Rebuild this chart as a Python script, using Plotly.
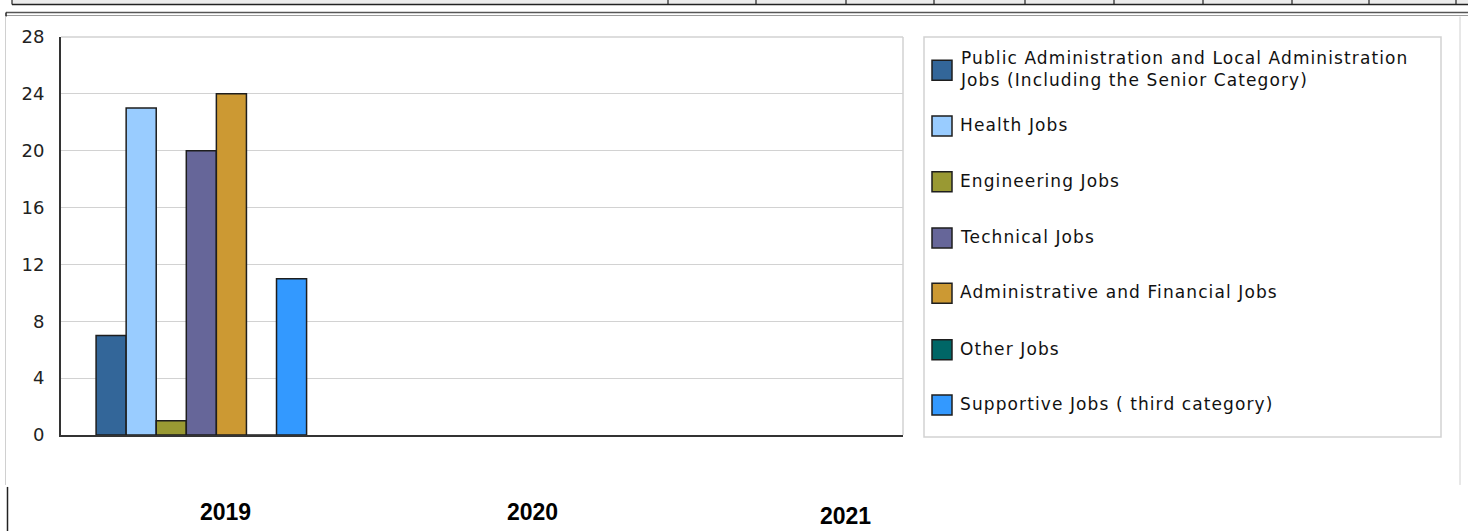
import plotly.graph_objects as go

# ---------------- data ----------------
years = ["2019", "2020", "2021"]
series_names = [
    "Public Administration and Local Administration<br>Jobs (Including the Senior Category)",
    "Health Jobs",
    "Engineering Jobs",
    "Technical Jobs",
    "Administrative and Financial Jobs",
    "Other Jobs",
    "Supportive Jobs ( third category)",
]
public_admin = [7, None, None]
health = [23, None, None]
engineering = [1, None, None]
technical = [20, None, None]
admin_financial = [24, None, None]
other = [0, None, None]
supportive = [11, None, None]
y_ticks = [0, 4, 8, 12, 16, 20, 24, 28]
year_labels = ["2019", "2020", "2021"]

series_values = [public_admin, health, engineering, technical,
                 admin_financial, other, supportive]
colors = ["#336699", "#99ccff", "#999933", "#666699", "#cc9933", "#006666", "#3399ff"]

# ---------------- geometry (pixels) ----------------
W, H = 1468, 531
PL, PR, PT, PB = 61, 903, 36.5, 435   # plot area box in pixels


def px(x):
    return (x - PL) / (PR - PL)


def py(y):
    return (PB - y) / (PB - PT)


fig = go.Figure()
for name, vals, col in zip(series_names, series_values, colors):
    fig.add_trace(go.Bar(
        x=years, y=vals, name=name, showlegend=False,
        marker=dict(color=col, line=dict(color="#1e1e1e", width=1.5)),
    ))

shapes = []
# plot-area border (top / right, light grey)
shapes.append(dict(type="line", xref="paper", yref="paper", x0=0, x1=1, y0=1, y1=1,
                   line=dict(color="#d2d2d2", width=1.5), layer="below"))
shapes.append(dict(type="line", xref="paper", yref="paper", x0=1, x1=1, y0=0, y1=1,
                   line=dict(color="#d2d2d2", width=1.5), layer="below"))

# legend box
shapes.append(dict(type="rect", xref="paper", yref="paper",
                   x0=px(924), x1=px(1441), y0=py(437), y1=py(36.5),
                   line=dict(color="#d2d2d2", width=1.5), fillcolor="white", layer="below"))

# legend entries
legend_centers = [69.7, 125.5, 181.5, 237.7, 293, 349.7, 405]
annotations = []
for name, col, cy in zip(series_names, colors, legend_centers):
    shapes.append(dict(type="rect", xref="paper", yref="paper",
                       x0=px(932), x1=px(952), y0=py(cy + 10), y1=py(cy - 10),
                       line=dict(color="#1e1e1e", width=1.5), fillcolor=col))
    styled = "<br>".join('<span style="letter-spacing:1.1px">%s</span>' % part
                         for part in name.split("<br>"))
    annotations.append(dict(xref="paper", yref="paper", x=px(958), y=py(cy - 1),
                            xanchor="left", yanchor="middle", align="left",
                            text=styled, showarrow=False,
                            font=dict(family="DejaVu Sans", size=17, color="#111111")))

# page decorations: table row at top
shapes.append(dict(type="rect", xref="paper", yref="paper",
                   x0=px(12), x1=px(1468), y0=py(4), y1=py(-2),
                   line=dict(width=0), fillcolor="#ececec"))
shapes.append(dict(type="line", xref="paper", yref="paper",
                   x0=px(12), x1=px(1468), y0=py(4), y1=py(4),
                   line=dict(color="#222222", width=1.5)))
for xv in [12, 668, 756, 846, 934, 1025, 1114, 1203, 1292, 1369, 1456]:
    shapes.append(dict(type="line", xref="paper", yref="paper",
                       x0=px(xv), x1=px(xv), y0=py(-2), y1=py(4),
                       line=dict(color="#222222", width=1.2)))
# container frame
shapes.append(dict(type="line", xref="paper", yref="paper",
                   x0=px(6), x1=px(1468), y0=py(12), y1=py(12),
                   line=dict(color="#555555", width=1.5)))
shapes.append(dict(type="line", xref="paper", yref="paper",
                   x0=px(6), x1=px(1468), y0=py(15), y1=py(15),
                   line=dict(color="#9a9a9a", width=1)))
shapes.append(dict(type="line", xref="paper", yref="paper",
                   x0=px(6), x1=px(6), y0=py(12), y1=py(16),
                   line=dict(color="#222222", width=1.5)))
shapes.append(dict(type="line", xref="paper", yref="paper",
                   x0=px(5.5), x1=px(5.5), y0=py(16), y1=py(485),
                   line=dict(color="#d0d0d0", width=1)))
shapes.append(dict(type="line", xref="paper", yref="paper",
                   x0=px(1460), x1=px(1460), y0=py(16), y1=py(485),
                   line=dict(color="#d0d0d0", width=1)))
shapes.append(dict(type="line", xref="paper", yref="paper",
                   x0=px(7.5), x1=px(7.5), y0=py(487), y1=py(535),
                   line=dict(color="#222222", width=1.5)))

# year labels under the chart
for lab, (xc, yc) in zip(year_labels, [(225, 512), (532, 512), (845, 516)]):
    annotations.append(dict(xref="paper", yref="paper", x=px(xc), y=py(yc),
                            xanchor="center", yanchor="middle", text="<b>%s</b>" % lab,
                            showarrow=False,
                            font=dict(family="Liberation Sans", size=23, color="#000000")))

fig.update_layout(
    width=W, height=H,
    margin=dict(l=PL, r=W - PR, t=PT, b=H - PB, pad=0),
    paper_bgcolor="white", plot_bgcolor="white",
    barmode="group", bargap=0.25, bargroupgap=0,
    showlegend=False,
    shapes=shapes, annotations=annotations,
    xaxis=dict(type="category", categoryorder="array", categoryarray=years,
               showticklabels=False, ticks="", showgrid=False, zeroline=False,
               showline=True, linecolor="#333333", linewidth=2, fixedrange=True),
    yaxis=dict(range=[0, 28], tickvals=y_ticks, ticks="", ticklabelstandoff=11,
               tickfont=dict(family="DejaVu Sans", size=18, color="#222222"),
               showgrid=True, gridcolor="#d2d2d2", gridwidth=1.2, zeroline=False,
               showline=True, linecolor="#333333", linewidth=2, fixedrange=True),
)

fig.write_html("out.html", config={"displayModeBar": False},
               post_script="document.body.style.margin='0';document.body.style.overflow='hidden';")
